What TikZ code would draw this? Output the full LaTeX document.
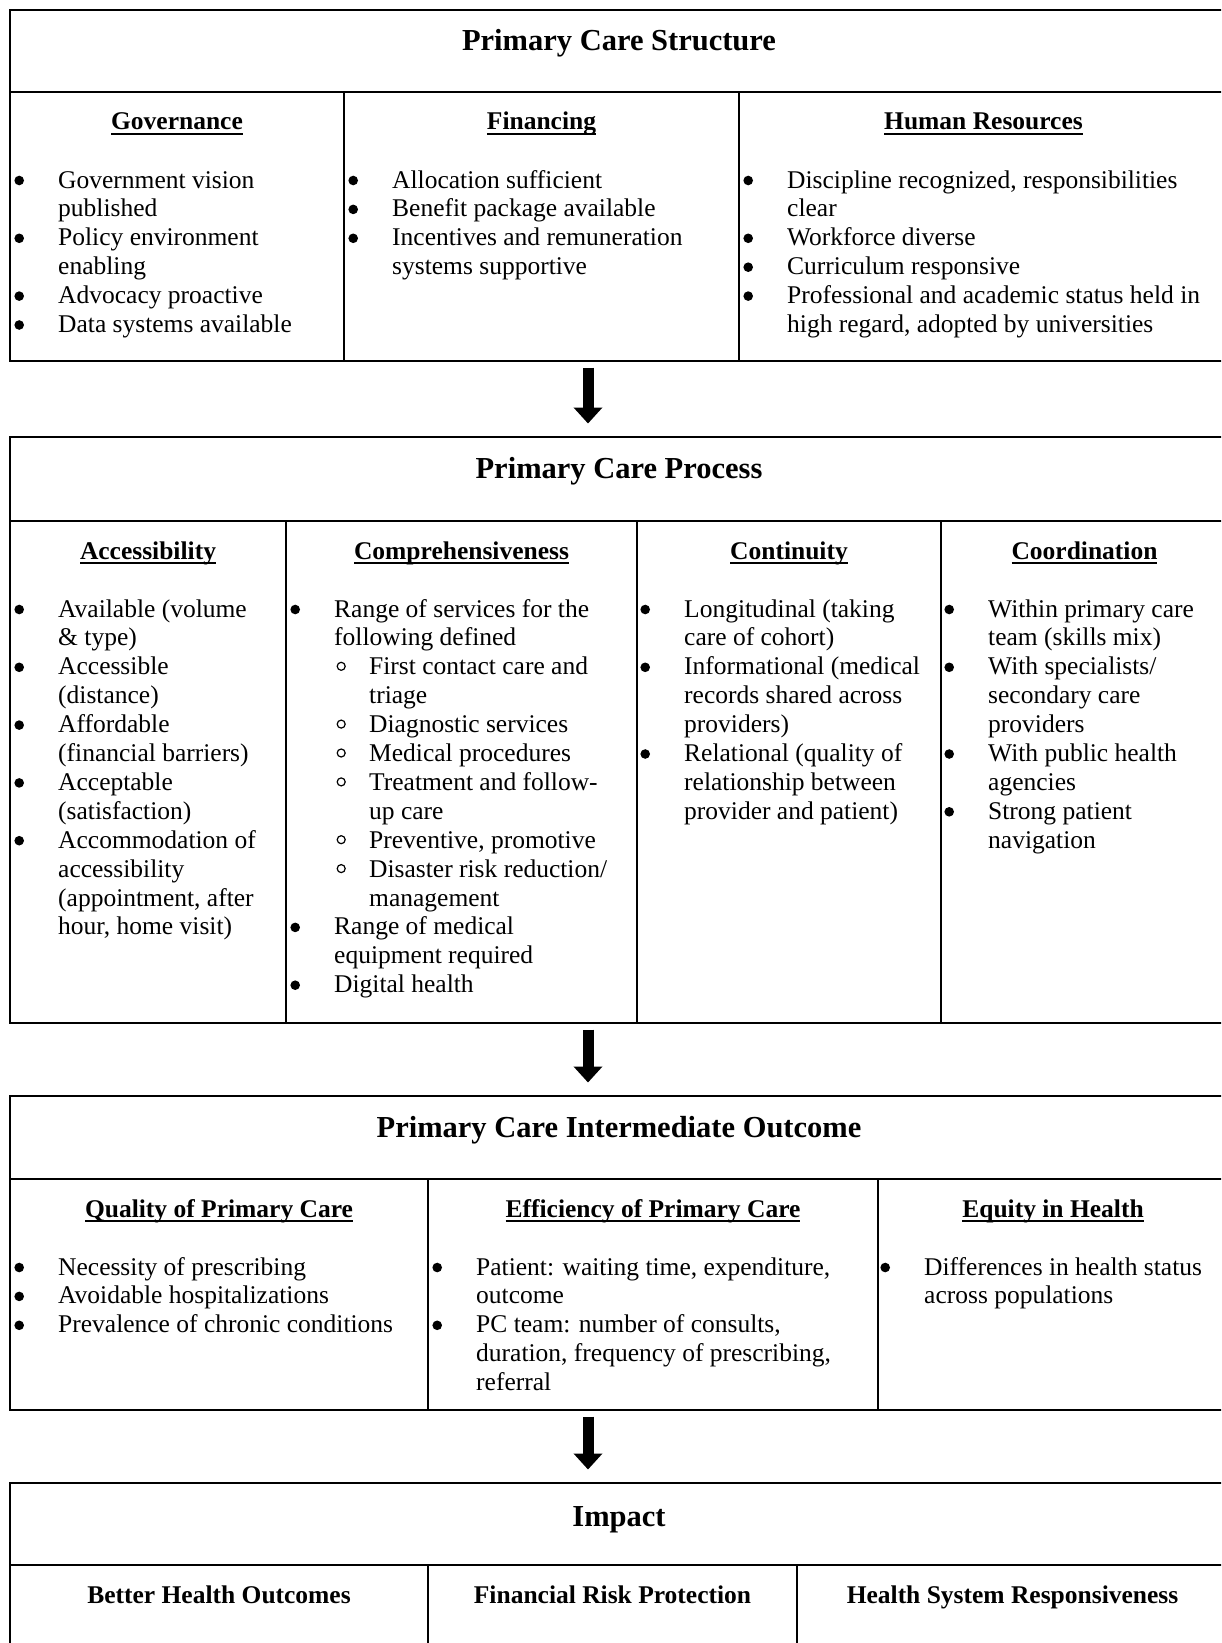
\documentclass[tikz,border=0pt]{standalone}
\usepackage{fontspec}
\setmainfont{Liberation Serif}
\usetikzlibrary{arrows.meta}
\newlength\ulw
\newcommand\hdtxt[1]{\settowidth\ulw{#1}\rlap{\rule[-5pt]{\ulw}{1.9pt}}#1}
\newcommand\dotmark{\tikz[baseline=0pt,x=1pt,y=1pt]\fill (0,7.5) circle (4.8);}
\newcommand\ringmark{\tikz[baseline=0pt,x=1pt,y=1pt]\draw[line width=1.2pt] (0,8.5) circle (4);}
\newcommand\itm{\leavevmode\llap{\makebox[0pt]{\dotmark}\hspace{39pt}}}
\newcommand\sitm{\leavevmode\hspace*{35pt}\llap{\makebox[0pt]{\ringmark}\hspace{28pt}}}
\newcommand\sind{\leavevmode\hspace*{35pt}}
\newcommand\colt[1]{\parbox[t]{600pt}{\fontsize{25.5pt}{28.9pt}\selectfont\raggedright #1}}
\begin{document}
\begin{tikzpicture}[x=1pt,y=-1pt,
  frame/.style={draw, line width=2.9pt, inner sep=0pt, outer sep=0pt, anchor=north west},
  ttl/.style={font=\fontsize{30.5pt}{34pt}\selectfont\bfseries, anchor=base, inner sep=0pt},
  hdr/.style={font=\fontsize{25.5pt}{29pt}\selectfont\bfseries, anchor=base, inner sep=0pt},
  body/.style={anchor=base west, inner sep=0pt},
  sepline/.style={line width=2.9pt},
  divline/.style={line width=2.3pt},
  flow/.style={line width=11pt, -{Triangle[width=28pt,length=16pt]}, shorten <=6.5pt, shorten >=13.5pt}]
\path[use as bounding box] (0,0) rectangle (1221,1643);
\clip (0,0) rectangle (1221,1643);
\fill[white] (0,0) rectangle (1221,1643);

% ---------- Box 1: Structure ----------
\node[frame, minimum width=1218pt, minimum height=351pt] (structure) at (10,10) {};
\draw[sepline] (10,92) -- (1228,92);
\draw[divline] (344,92) -- (344,361);
\draw[divline] (739,92) -- (739,361);
\node[ttl] (t1) at (619,51) {Primary Care Structure};
\node[hdr] (h11) at (177,130) {\hdtxt{Governance}};
\node[hdr] (h12) at (541.5,130) {\hdtxt{Financing}};
\node[hdr] (h13) at (983.5,130) {\hdtxt{Human Resources}};
\node[body] (b11) at (58,188) {\colt{\itm Government vision\\ published\\ \itm Policy environment\\ enabling\\ \itm Advocacy proactive\\ \itm Data systems available}};
\node[body] (b12) at (392,188) {\colt{\itm Allocation sufficient\\ \itm Benefit package available\\ \itm Incentives and remuneration\\ systems supportive}};
\node[body] (b13) at (787,188) {\colt{\itm Discipline recognized, responsibilities\\ clear\\ \itm Workforce diverse\\ \itm Curriculum responsive\\ \itm Professional and academic status held in\\ high regard, adopted by universities}};

% ---------- Box 2: Process ----------
\node[frame, minimum width=1218pt, minimum height=586pt] (process) at (10,437) {};
\draw[sepline] (10,521) -- (1228,521);
\draw[divline] (286,521) -- (286,1023);
\draw[divline] (637,521) -- (637,1023);
\draw[divline] (941,521) -- (941,1023);
\node[ttl] (t2) at (619,478) {Primary Care Process};
\node[hdr] (h21) at (148,559) {\hdtxt{Accessibility}};
\node[hdr] (h22) at (461.5,559) {\hdtxt{Comprehensiveness}};
\node[hdr] (h23) at (789,559) {\hdtxt{Continuity}};
\node[hdr] (h24) at (1084.5,559) {\hdtxt{Coordination}};
\node[body] (b21) at (58,617) {\colt{\itm Available (volume\\ \& type)\\ \itm Accessible\\ (distance)\\ \itm Affordable\\ (financial barriers)\\ \itm Acceptable\\ (satisfaction)\\ \itm Accommodation of\\ accessibility\\ (appointment, after\\ hour, home visit)}};
\node[body] (b22) at (334,617) {\colt{\itm Range of services for the\\ following defined\\ \sitm First contact care and\\ \sind triage\\ \sitm Diagnostic services\\ \sitm Medical procedures\\ \sitm Treatment and follow-\\ \sind up care\\ \sitm Preventive, promotive\\ \sitm Disaster risk reduction/\\ \sind management\\ \itm Range of medical\\ equipment required\\ \itm Digital health}};
\node[body] (b23) at (684,617) {\colt{\itm Longitudinal (taking\\ care of cohort)\\ \itm Informational (medical\\ records shared across\\ providers)\\ \itm Relational (quality of\\ relationship between\\ provider and patient)}};
\node[body] (b24) at (988,617) {\colt{\itm Within primary care\\ team (skills mix)\\ \itm With specialists/\\ secondary care\\ providers\\ \itm With public health\\ agencies\\ \itm Strong patient\\ navigation}};

% ---------- Box 3: Intermediate outcome ----------
\node[frame, minimum width=1218pt, minimum height=314pt] (outcome) at (10,1096) {};
\draw[sepline] (10,1179) -- (1228,1179);
\draw[divline] (428,1179) -- (428,1410);
\draw[divline] (878,1179) -- (878,1410);
\node[ttl] (t3) at (619,1137) {Primary Care Intermediate Outcome};
\node[hdr] (h31) at (219,1217) {\hdtxt{Quality of Primary Care}};
\node[hdr] (h32) at (653,1217) {\hdtxt{Efficiency of Primary Care}};
\node[hdr] (h33) at (1053,1217) {\hdtxt{Equity in Health}};
\node[body] (b31) at (58,1275) {\colt{\itm Necessity of prescribing\\ \itm Avoidable hospitalizations\\ \itm Prevalence of chronic conditions}};
\node[body] (b32) at (476,1275) {\colt{\itm Patient: waiting time, expenditure,\\ outcome\\ \itm PC team: number of consults,\\ duration, frequency of prescribing,\\ referral}};
\node[body] (b33) at (924,1275) {\colt{\itm Differences in health status\\ across populations}};

% ---------- Box 4: Impact ----------
\node[frame, minimum width=1218pt, minimum height=200pt] (impact) at (10,1483) {};
\draw[sepline] (10,1565) -- (1228,1565);
\draw[divline] (428,1565) -- (428,1683);
\draw[divline] (797,1565) -- (797,1683);
\node[ttl] (t4) at (619,1526) {Impact};
\node[hdr] (h41) at (219,1603) {Better Health Outcomes};
\node[hdr] (h42) at (612.5,1603) {Financial Risk Protection};
\node[hdr] (h43) at (1012.5,1603) {Health System Responsiveness};

% ---------- Arrows ----------
\draw[flow] ([xshift=-31pt]structure.south) -- ([xshift=-31pt]process.north);
\draw[flow] ([xshift=-31pt]process.south) -- ([xshift=-31pt]outcome.north);
\draw[flow] ([xshift=-31pt]outcome.south) -- ([xshift=-31pt]impact.north);
\end{tikzpicture}
\end{document}
